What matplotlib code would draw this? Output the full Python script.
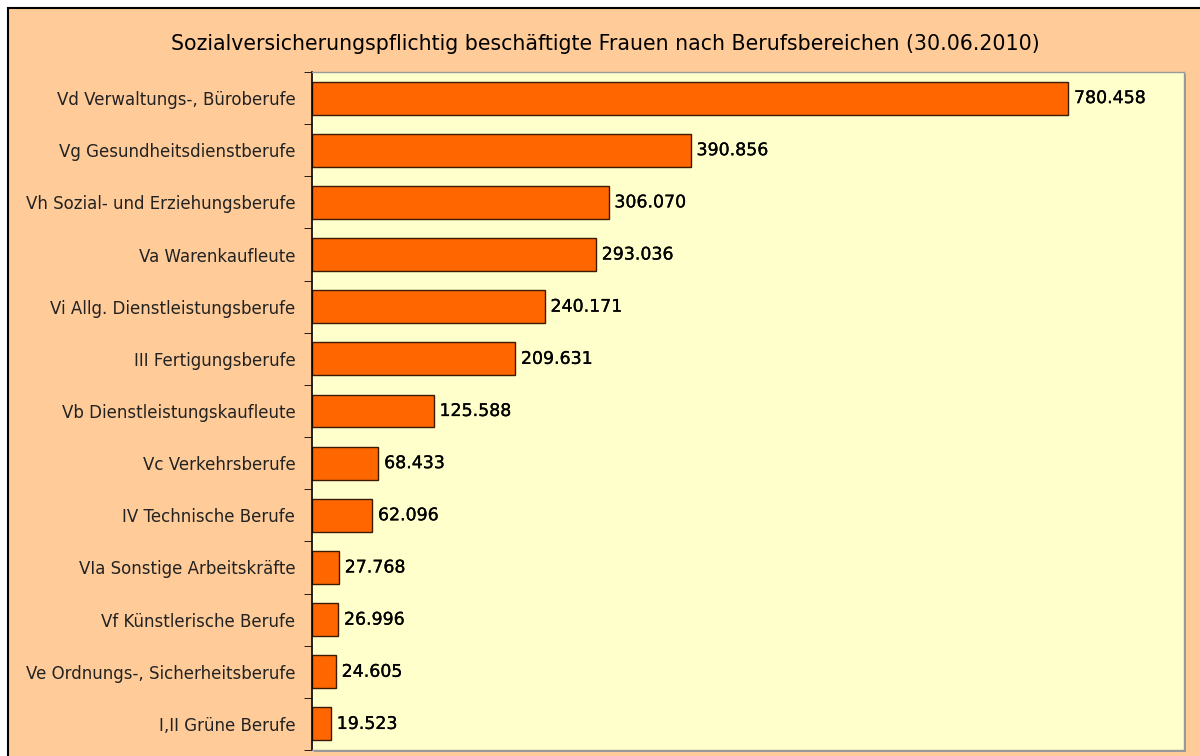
import numpy as np
import matplotlib.pyplot as plt
import matplotlib.patheffects as pe
from matplotlib.patches import Rectangle

# Daten
berufe = ['Vd Verwaltungs-, Büroberufe', 'Vg Gesundheitsdienstberufe',
          'Vh Sozial- und Erziehungsberufe', 'Va Warenkaufleute',
          'Vi Allg. Dienstleistungsberufe', 'III Fertigungsberufe',
          'Vb Dienstleistungskaufleute', 'Vc Verkehrsberufe',
          'IV Technische Berufe', 'VIa Sonstige Arbeitskräfte',
          'Vf Künstlerische Berufe', 'Ve Ordnungs-, Sicherheitsberufe',
          'I,II Grüne Berufe']
frauen = [780458, 390856, 306070, 293036, 240171, 209631, 125588,
          68433, 62096, 27768, 26996, 24605, 19523]
wert_labels = ['780.458', '390.856', '306.070', '293.036', '240.171', '209.631',
               '125.588', '68.433', '62.096', '27.768', '26.996', '24.605', '19.523']

plt.rcParams['font.family'] = ['DejaVu Sans']

fig = plt.figure(figsize=(12, 7.56), dpi=100)
fig.patch.set_facecolor('white')

# Rahmen / Hintergrund
fig.patches.append(Rectangle((8/1200, -0.1), 1.0, (748/756) + 0.1,
                             transform=fig.transFigure, facecolor='#FFCC99',
                             edgecolor='black', linewidth=1.5, zorder=-2))

ax_l, ax_r, ax_b, ax_t = 312/1200, 1184/1200, 6/756, 684/756
# Schatten
fig.patches.append(Rectangle((ax_l + 2/1200, ax_b - 2/756), ax_r - ax_l, ax_t - ax_b,
                             transform=fig.transFigure, facecolor='#999999',
                             edgecolor='none', zorder=-1))
ax = fig.add_axes([ax_l, ax_b, ax_r - ax_l, ax_t - ax_b])
ax.set_facecolor('#FFFFCC')

y = np.arange(len(berufe))
ax.barh(y, frauen, height=0.63, color='#FF6600', edgecolor='#3a1a00', linewidth=1)
for yi, v, lab in zip(y, frauen, wert_labels):
    ax.text(v + 6000, yi, lab, va='center', ha='left', fontsize=12.5, color='black',
            path_effects=[pe.withStroke(linewidth=0.2, foreground='black')])

ax.set_xlim(0, 900000)
ax.set_ylim(len(berufe) - 0.5, -0.5)
ax.set_yticks(y)
ax.set_yticklabels(berufe, fontsize=12, color='#222222')
ax.set_yticks(np.arange(-0.5, len(berufe), 1), minor=True)
ax.tick_params(axis='y', which='major', length=0, pad=12)
ax.tick_params(axis='y', which='minor', length=6, direction='out', color='black')
ax.set_xticks([])

for s in ['top', 'right', 'bottom']:
    ax.spines[s].set_color('#999999')
    ax.spines[s].set_linewidth(1)
ax.spines['left'].set_color('black')
ax.spines['left'].set_linewidth(1.2)

fig.text(605/1200, 1 - 44/756, 'Sozialversicherungspflichtig beschäftigte Frauen nach Berufsbereichen (30.06.2010)',
         ha='center', va='center', fontsize=14.8, color='black')

fig.savefig('out.png', dpi=100)
